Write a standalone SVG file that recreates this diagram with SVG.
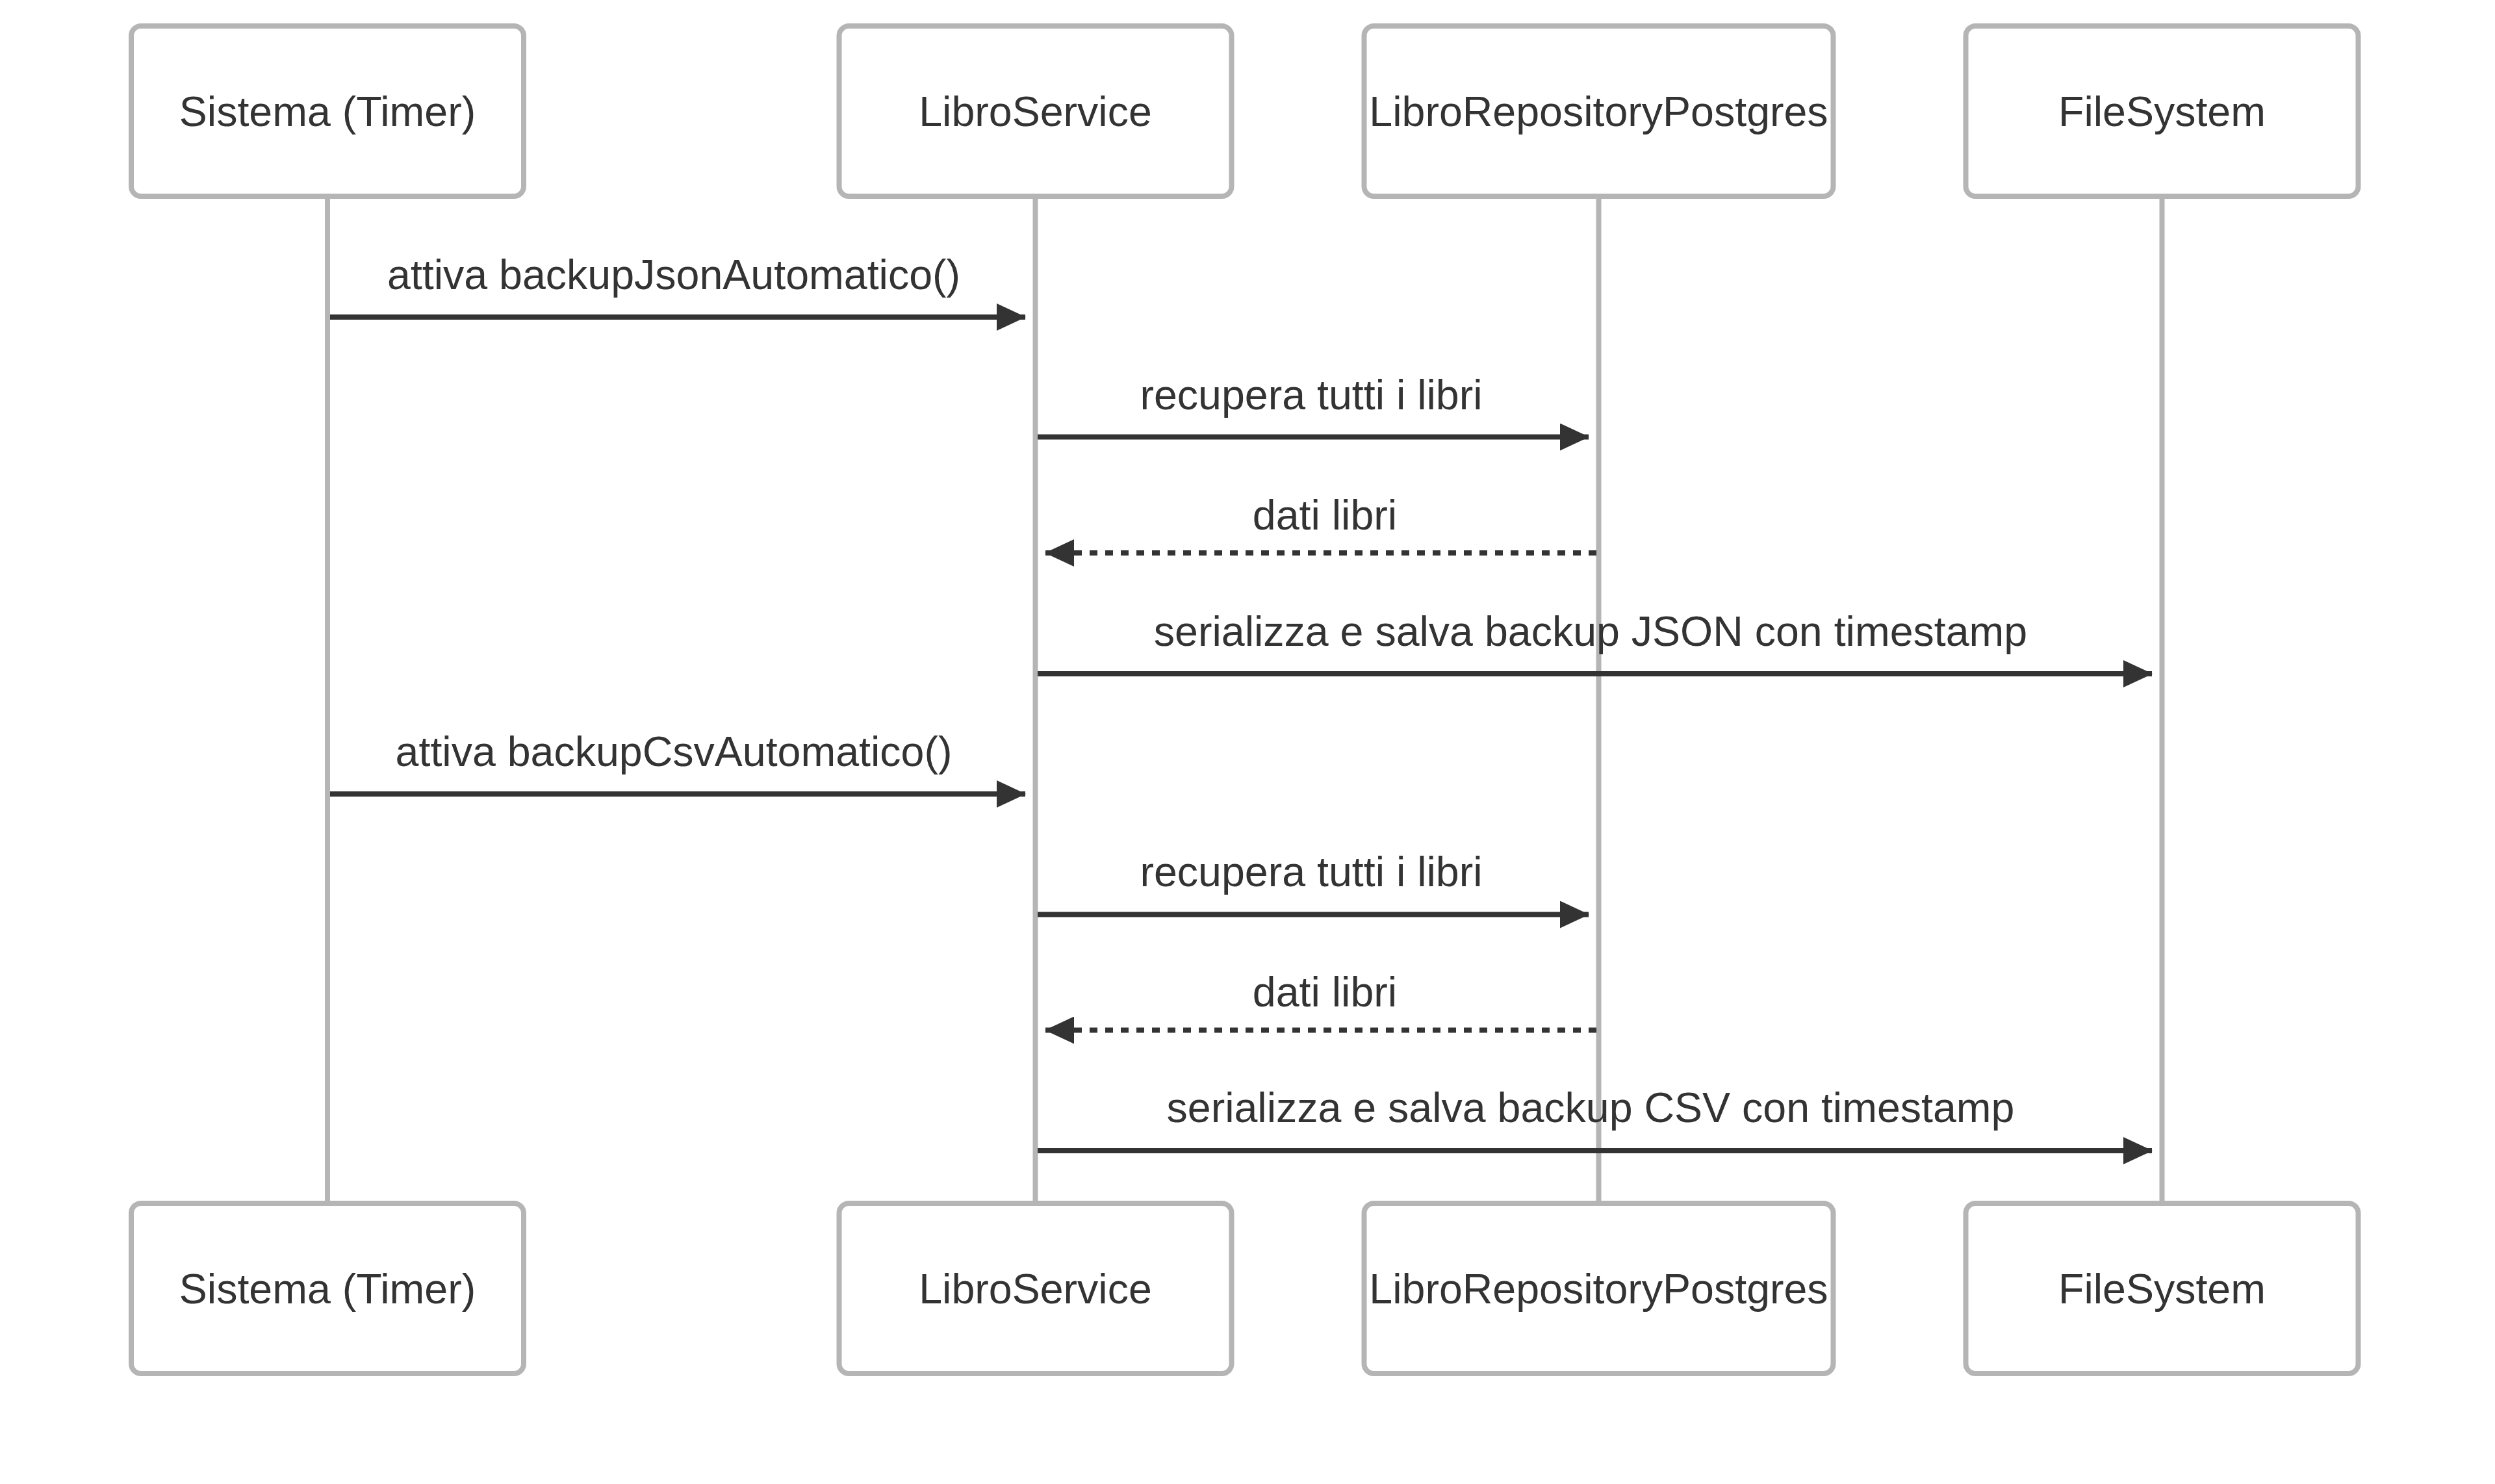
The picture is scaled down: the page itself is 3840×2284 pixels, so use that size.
<svg xmlns="http://www.w3.org/2000/svg" width="3840" height="2284" viewBox="0 0 3840 2284">
<style>
.bg{fill:#ffffff}
.actor rect{fill:#ffffff;stroke:#b5b5b5;stroke-width:8}
.actor text{font-family:"Liberation Sans",Arial,sans-serif;font-size:64.5px;fill:#333333;text-anchor:middle}
.life{stroke:#b5b5b5;stroke-width:8;fill:none}
.msg{stroke:#333333;stroke-width:8;fill:none}
.dash{stroke-dasharray:12 12}
.lbl{font-family:"Liberation Sans",Arial,sans-serif;font-size:64.5px;fill:#333333;text-anchor:middle}
</style>
<defs>
<marker id="arrow" viewBox="0 0 45 42" markerUnits="userSpaceOnUse" markerWidth="45" markerHeight="42" refX="44" refY="21" orient="auto">
<path d="M0,0 L45,21 L0,42 z" fill="#333333"/>
</marker>
</defs>
<rect class="bg" x="0" y="0" width="3840" height="2284"/>
<g id="lifelines">
<line class="life" x1="504" y1="302" x2="504" y2="1852"/>
<line class="life" x1="1593.5" y1="302" x2="1593.5" y2="1852"/>
<line class="life" x1="2460.5" y1="302" x2="2460.5" y2="1852"/>
<line class="life" x1="3327.5" y1="302" x2="3327.5" y2="1852"/>
</g>
<g id="actor-sistema-top" class="actor"><rect x="202" y="40" width="604" height="262" rx="15"/><text x="504" y="193.5">Sistema (Timer)</text></g>
<g id="actor-libroservice-top" class="actor"><rect x="1291.5" y="40" width="604" height="262" rx="15"/><text x="1593.5" y="193.5">LibroService</text></g>
<g id="actor-repo-top" class="actor"><rect x="2099.5" y="40" width="722" height="262" rx="15"/><text x="2460.5" y="193.5">LibroRepositoryPostgres</text></g>
<g id="actor-filesystem-top" class="actor"><rect x="3025.5" y="40" width="604" height="262" rx="15"/><text x="3327.5" y="193.5">FileSystem</text></g>
<g id="actor-sistema-bottom" class="actor"><rect x="202" y="1852" width="604" height="262" rx="15"/><text x="504" y="2005.5">Sistema (Timer)</text></g>
<g id="actor-libroservice-bottom" class="actor"><rect x="1291.5" y="1852" width="604" height="262" rx="15"/><text x="1593.5" y="2005.5">LibroService</text></g>
<g id="actor-repo-bottom" class="actor"><rect x="2099.5" y="1852" width="722" height="262" rx="15"/><text x="2460.5" y="2005.5">LibroRepositoryPostgres</text></g>
<g id="actor-filesystem-bottom" class="actor"><rect x="3025.5" y="1852" width="604" height="262" rx="15"/><text x="3327.5" y="2005.5">FileSystem</text></g>
<g id="connectors">
<text class="lbl" x="1037" y="444.5">attiva backupJsonAutomatico()</text>
<line class="msg" x1="508" y1="488" x2="1578" y2="488" marker-end="url(#arrow)"/>
<text class="lbl" x="2018" y="630">recupera tutti i libri</text>
<line class="msg" x1="1597" y1="672.5" x2="2445" y2="672.5" marker-end="url(#arrow)"/>
<text class="lbl" x="2039" y="815">dati libri</text>
<line class="msg dash" x1="2457" y1="851" x2="1609" y2="851" marker-end="url(#arrow)"/>
<text class="lbl" x="2448" y="993.5">serializza e salva backup JSON con timestamp</text>
<line class="msg" x1="1597" y1="1037" x2="3312" y2="1037" marker-end="url(#arrow)"/>
<text class="lbl" x="1037" y="1178.5">attiva backupCsvAutomatico()</text>
<line class="msg" x1="508" y1="1222" x2="1578" y2="1222" marker-end="url(#arrow)"/>
<text class="lbl" x="2018" y="1363.5">recupera tutti i libri</text>
<line class="msg" x1="1597" y1="1407.5" x2="2445" y2="1407.5" marker-end="url(#arrow)"/>
<text class="lbl" x="2039" y="1548.5">dati libri</text>
<line class="msg dash" x1="2457" y1="1585.5" x2="1609" y2="1585.5" marker-end="url(#arrow)"/>
<text class="lbl" x="2448" y="1727">serializza e salva backup CSV con timestamp</text>
<line class="msg" x1="1597" y1="1771" x2="3312" y2="1771" marker-end="url(#arrow)"/>
</g>
</svg>
